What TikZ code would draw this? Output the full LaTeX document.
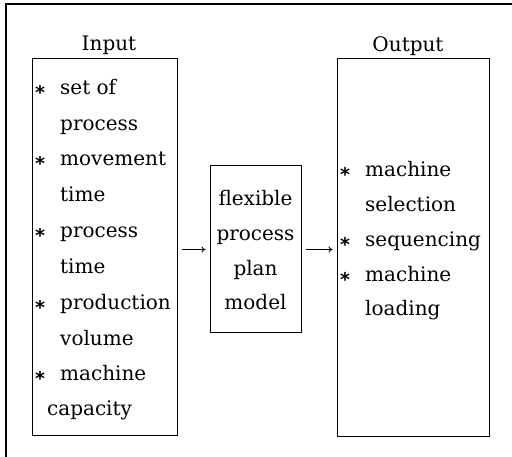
\documentclass[tikz,border=0pt]{standalone}
\usepackage{fontspec}
\setmainfont{DejaVu Serif}
\newfontfamily\starfont{DejaVu Sans}[BoldFont=DejaVu Sans Bold]
\usetikzlibrary{arrows.meta}
\begin{document}
\begin{tikzpicture}[x=1pt,y=-1pt,
  box/.style={draw, line width=1pt, inner sep=0pt},
  txt/.style={inner sep=0pt, anchor=base west, font=\fontsize{20}{20}\selectfont},
  lab/.style={inner sep=0pt, anchor=base, font=\fontsize{20}{20}\selectfont},
  star/.style={inner sep=0pt, anchor=base, font=\starfont\bfseries\fontsize{19}{20}\selectfont},
  arr/.style={line width=0.9pt, -{To[length=4pt,width=6pt]}, shorten <=4pt, shorten >=4pt}]
\useasboundingbox (0,0) rectangle (512,457);
\draw[line width=1.1pt] (6,460) -- (6,4) -- (515,4);
% boxes
\node[box, minimum width=145pt, minimum height=376pt] (in) at (104.5,247) {};
\node[box, minimum width=91pt, minimum height=167pt] (mid) at (255.5,249.5) {};
\node[box, minimum width=152pt, minimum height=377pt] (out) at (413,247.5) {};
% labels
\node[lab] (inlab) at (109,51) {Input};
\node[lab] (outlab) at (408,52) {Output};
% input list
\node[star] (s1) at (40,95) {\raisebox{-5pt}{*}};
\node[txt] (i1) at (60,95) {set of};
\node[txt] (i2) at (60,131) {process};
\node[star] (s2) at (40,166) {\raisebox{-5pt}{*}};
\node[txt] (i3) at (60,166) {movement};
\node[txt] (i4) at (60,202) {time};
\node[star] (s3) at (40,238) {\raisebox{-5pt}{*}};
\node[txt] (i5) at (60,238) {process};
\node[txt] (i6) at (60,274) {time};
\node[star] (s4) at (40,310) {\raisebox{-5pt}{*}};
\node[txt] (i7) at (60,310) {production};
\node[txt] (i8) at (60,345) {volume};
\node[star] (s5) at (40,381) {\raisebox{-5pt}{*}};
\node[txt] (i9) at (60,381) {machine};
\node[txt] (i10) at (47,416) {capacity};
% middle
\node[lab] (m1) at (255.5,206) {flexible};
\node[lab] (m2) at (255.5,241) {process};
\node[lab] (m3) at (255.5,276) {plan};
\node[lab] (m4) at (255.5,310) {model};
% output list
\node[star] (t1) at (345,177) {\raisebox{-5pt}{*}};
\node[txt] (o1) at (365,177) {machine};
\node[txt] (o2) at (365,212) {selection};
\node[star] (t2) at (345,247) {\raisebox{-5pt}{*}};
\node[txt] (o3) at (365,247) {sequencing};
\node[star] (t3) at (345,282) {\raisebox{-5pt}{*}};
\node[txt] (o4) at (365,282) {machine};
\node[txt] (o5) at (365,316) {loading};
% arrows
\draw[arr] (in.east |- mid.west) -- (mid.west);
\draw[arr] (mid.east) -- (out.west |- mid.east);
\end{tikzpicture}
\end{document}
